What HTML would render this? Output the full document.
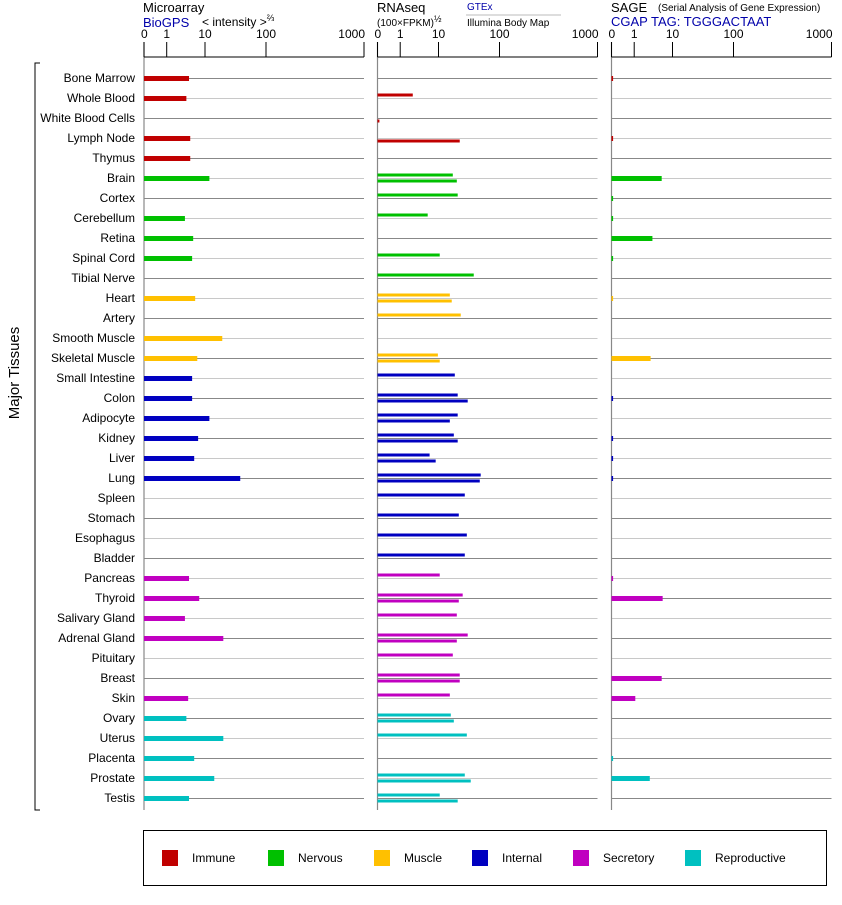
<!DOCTYPE html>
<html><head><meta charset="utf-8"><style>
body{margin:0;background:#fff;width:842px;height:900px;overflow:hidden;font-family:"Liberation Sans",Arial,sans-serif}
svg text{font-family:"Liberation Sans",Arial,sans-serif}
</style></head><body>
<svg id="chart" width="842" height="900" viewBox="0 0 842 900" xmlns="http://www.w3.org/2000/svg">
<g>
<text x="143" y="12" font-size="13">Microarray</text>
<text x="143" y="27" font-size="13" fill="#0000aa">BioGPS</text>
<text x="202" y="26" font-size="12">&lt; intensity &gt;<tspan font-size="9" dy="-5">⅔</tspan></text>
<text x="377" y="12" font-size="13">RNAseq</text>
<text x="377" y="26" font-size="10">(100×FPKM)<tspan font-size="9" dy="-4">½</tspan></text>
<text x="467" y="10" font-size="10" fill="#0000aa">GTEx</text>
<line x1="466" y1="15" x2="561" y2="15" stroke="#bbb" stroke-width="1"/>
<text x="467" y="26" font-size="10">Illumina Body Map</text>
<text x="611" y="12" font-size="13">SAGE</text>
<text x="658" y="11" font-size="10">(Serial Analysis of Gene Expression)</text>
<text x="611" y="26" font-size="13" fill="#0000aa">CGAP TAG: TGGGACTAAT</text>
</g>
<g>
<path d="M40 63 H35 V810 H40" fill="none" stroke="#000" stroke-width="1"/>
<text transform="translate(19 373) rotate(-90)" text-anchor="middle" font-size="15">Major Tissues</text>
</g>
<g id="plot"></g>
<g>
<rect x="143.5" y="830.5" width="683" height="55" fill="none" stroke="#000" stroke-width="1"/>
<g id="legend"></g>
</g>
</svg>
<script>
const categories=["Bone Marrow","Whole Blood","White Blood Cells","Lymph Node","Thymus","Brain","Cortex","Cerebellum","Retina","Spinal Cord","Tibial Nerve","Heart","Artery","Smooth Muscle","Skeletal Muscle","Small Intestine","Colon","Adipocyte","Kidney","Liver","Lung","Spleen","Stomach","Esophagus","Bladder","Pancreas","Thyroid","Salivary Gland","Adrenal Gland","Pituitary","Breast","Skin","Ovary","Uterus","Placenta","Prostate","Testis"];
const groups=[0,0,0,0,0,1,1,1,1,1,1,2,2,2,2,3,3,3,3,3,3,3,3,3,3,4,4,4,4,4,4,4,5,5,5,5,5];
const microarray=[4.4,3.8,null,4.7,4.7,11.9,null,3.5,5.5,5.2,null,6.1,null,19.6,6.8,5.2,5.2,11.9,7.1,5.8,38.6,null,null,null,null,4.4,7.5,3.5,20.4,null,null,4.2,3.8,20.4,5.8,14.4,4.4];
const gtex=[null,2.5,null,null,null,17.5,21.1,5.8,null,10.5,38.6,15.6,23.7,null,9.7,18.9,21.1,21.1,18.2,6.4,50,27.6,22,29.8,27.6,10.5,25.5,20.4,30.8,17.5,22.8,15.6,16.2,29.8,null,27.6,10.5];
const illumina=[null,null,0.06,22.8,null,20.4,null,null,null,null,null,16.8,null,null,10.5,null,30.8,15.6,21.1,8.7,48.3,null,null,null,null,null,22,null,20.4,null,22.8,null,18.2,null,null,34.5,21.1];
const sage=[0.05,null,null,0.05,null,5.8,0.05,0.05,3.5,0.05,null,0.05,null,null,3.15,null,0.05,null,0.05,0.05,0.05,null,null,null,null,0.05,6.1,null,null,null,5.8,1.1,null,null,0.05,3.0,null];
const groupNames=["Immune","Nervous","Muscle","Internal","Secretory","Reproductive"];
const groupColors=["#c00000","#00c000","#ffc000","#0000c0","#c000c0","#00c0c0"];
const tickValues=[0,1,10,100,1000];
const tickLabels=["0","1","10","100","1000"];

const NS="http://www.w3.org/2000/svg";
const knotPx=[0,22.7,61,122,220];
function lv(v){return Math.log10(v+1);}
function xScale(v){
  if(v<=0)return 0;
  const k=tickValues.map(lv),t=lv(v);
  for(let i=1;i<k.length;i++){if(t<=k[i]){return knotPx[i-1]+(t-k[i-1])/(k[i]-k[i-1])*(knotPx[i]-knotPx[i-1]);}}
  return 220;
}
function yRow(i){return 78+20*i;}
function mk(tag,attrs,parent){const e=document.createElementNS(NS,tag);for(const k in attrs)e.setAttribute(k,attrs[k]);parent.appendChild(e);return e;}
const plot=document.getElementById('plot');
const panels=[{x0:144,name:"microarray"},{x0:377.5,name:"rnaseq"},{x0:611.5,name:"sage"}];
categories.forEach((c,i)=>{
  const t=mk('text',{x:135,y:yRow(i)+4,'text-anchor':'end','font-size':12},plot);
  t.textContent=c;
  
  
});
panels.forEach(p=>{
  const g=mk('g',{},plot);
  
  
  categories.forEach((c,i)=>{
    const l=mk('line',{x1:p.x0,x2:p.x0+220,y1:yRow(i)+0.5,y2:yRow(i)+0.5,stroke:i%2?'#c8c8c8':'#888','stroke-width':1},g);
    
    
  });
  mk('line',{x1:p.x0,x2:p.x0,y1:42,y2:810,stroke:'#888','stroke-width':1.2},g);
  const ax=mk('g',{},g);
  
  
  mk('line',{x1:p.x0,x2:p.x0+220,y1:57,y2:57,stroke:'#000','stroke-width':1},ax);
  tickValues.forEach((v,j)=>{
    const x=p.x0+xScale(v);
    mk('line',{x1:x,x2:x,y1:42,y2:57,stroke:'#000','stroke-width':1},ax);
    const anchor=j===0?'start':(j===tickValues.length-1?'end':'middle');
    const t=mk('text',{x:j===0?x-3:(j===tickValues.length-1?x+1:x),y:38,'text-anchor':anchor,'font-size':12},ax);
    t.textContent=tickLabels[j];
    
    
  });
});
function bar(parent,x0,v,y,h,color,name){
  if(v===null||v===undefined)return;
  const w=Math.max(1.5,xScale(v));
  const r=mk('rect',{x:x0,y:y,width:w,height:h,fill:color},parent);
  
  
}
categories.forEach((c,i)=>{
  const col=groupColors[groups[i]],y=yRow(i);
  bar(plot,144,microarray[i],y-2,5,col,'microarray-bar');
  bar(plot,377.5,gtex[i],y-4.5,3,col,'gtex-bar');
  bar(plot,377.5,illumina[i],y+1.5,3,col,'illumina-bar');
  bar(plot,611.5,sage[i],y-2,5,col,'sage-bar');
});
const leg=document.getElementById('legend');
const legX=[162,268,374,472,573,685];
groupNames.forEach((n,i)=>{
  const g=mk('g',{},leg);
  
  
  mk('rect',{x:legX[i],y:850,width:16,height:16,fill:groupColors[i]},g);
  const t=mk('text',{x:legX[i]+30,y:862,'font-size':12},g);
  t.textContent=n;
});
</script>
</body></html>
